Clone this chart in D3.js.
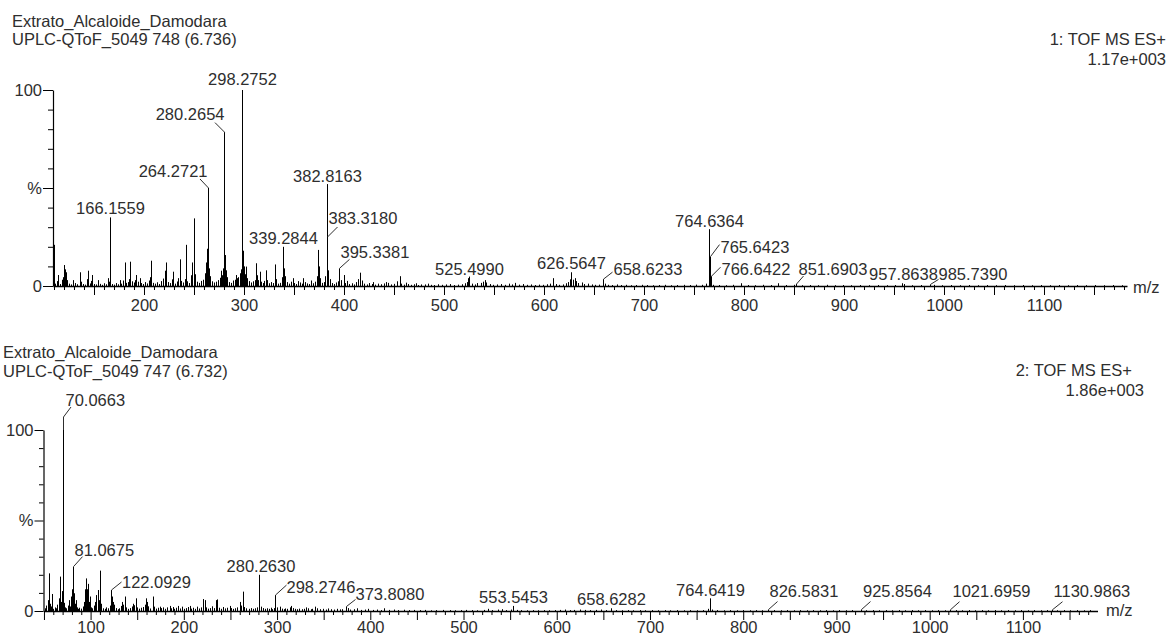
<!DOCTYPE html>
<html>
<head>
<meta charset="utf-8">
<script src="https://cdn.jsdelivr.net/npm/d3@7"></script>
<style>
  html, body { margin: 0; padding: 0; background: #fff; }
  svg { display: block; }
  text { font-family: "Liberation Sans", Arial, Helvetica, sans-serif; font-size: 16.5px; fill: #2e2e2e; }
</style>
</head>
<body>
<svg id="chart" width="1168" height="635"></svg>
<script>
// ---------- Spectrum 1: scan 748 (6.736 min) ----------
const spec1Header = ["Extrato_Alcaloide_Damodara", "UPLC-QToF_5049 748 (6.736)"];
const spec1Function = ["1: TOF MS ES+", "1.17e+003"];
// [m/z, relative intensity %] of annotated peaks
const spec1Labelled = [
  [166.1559, 35], [264.2721, 50], [280.2654, 78.5], [298.2752, 100], [339.2844, 20],
  [382.8163, 52], [383.3180, 25], [395.3381, 9], [525.4990, 4.8], [626.5647, 7],
  [658.6233, 3.5], [764.6364, 29], [765.6423, 15], [766.6422, 5], [851.6903, 1],
  [957.8638, 1.4], [985.7390, 0.8]
];
// other visible peaks
const spec1Peaks = [
  [110.2, 21], [114, 5.6], [120.3, 10.7], [122, 7], [129, 3], [135.7, 7], [144.2, 7.8],
  [148.4, 5.6], [154, 3], [164, 4], [175.7, 3], [180.7, 12], [186.4, 12.4], [192.4, 5.6],
  [195.7, 4], [207.2, 12.9], [220.7, 7.8], [222.4, 12], [229, 7.3], [235.7, 13.6],
  [242.2, 21], [249.7, 34.5], [262.3, 12], [263.3, 19], [277.4, 7.8], [281.3, 15.8],
  [292.4, 5.6], [295.7, 6.5], [299.3, 18], [302, 9.9], [312.3, 11.6], [315.7, 7.3],
  [321.7, 8], [330.7, 11], [340.4, 9], [349, 4], [359, 4], [374.1, 18.4], [375.2, 10],
  [384.3, 8], [399.7, 5.6], [416.4, 6.8], [429, 2], [442, 2], [455.7, 5], [462, 1.7],
  [472, 1.4], [524, 4], [540.7, 3], [609, 4], [625.7, 3.4], [630.7, 4], [797, 1.4], [834, 1.4]
];
// low-level baseline signal
const spec1Minor = [
  [111,1.2],[113,2.5],[116,1.0],[118,3.2],[119,4.5],[121,8.5],[123,3.0],[125,1.2],[127,0.8],[131,1.5],
  [133,0.9],[137,2.2],[139,1.0],[141,0.7],[143,3.5],[146,1.3],[147,2.6],[150,1.0],[152,0.8],[156,1.1],
  [158,0.6],[160,1.4],[162,0.9],[165,2.2],[168,1.0],[170,0.7],[172,1.5],[174,0.9],[177,1.2],[179,2.8],
  [182,1.6],[184,2.0],[185,3.5],[188,2.4],[190,1.8],[191,3.0],[194,2.2],[197,1.5],[199,1.0],[201,2.0],
  [203,1.3],[205,2.8],[206,4.5],[209,1.6],[211,1.2],[213,1.9],[215,1.0],[217,2.5],[219,3.8],[221,4.2],
  [224,2.0],[226,1.5],[228,3.4],[231,1.2],[233,2.3],[234,4.0],[237,2.6],[239,1.8],[241,3.5],[243,2.4],
  [245,1.5],[247,5.5],[248,12],[251,6],[253,2.2],[255,1.6],[257,2.6],[259,3.2],[261,6.5],[265,9],
  [266,5],[268,2.4],[270,1.8],[272,2.2],[274,3.0],[276,4.2],[278,5.5],[279,9],[282,8],[283,4.5],
  [285,2.0],[287,1.6],[289,2.8],[291,3.2],[293,4.0],[294,4.5],[296,5.5],[297,8.5],[300,10],[301,6],
  [303,4],[305,2.5],[307,1.8],[309,2.4],[311,3.0],[313,5.5],[314,3.0],[317,2.2],[319,1.5],[320,2.6],
  [323,3.0],[325,1.4],[327,2.0],[329,1.5],[332,3.5],[334,1.2],[336,1.6],[338,4.5],[341,5],[343,2.0],
  [345,1.2],[347,2.2],[350,1.5],[352,1.0],[354,2.5],[356,1.8],[358,1.2],[361,2.0],[363,1.3],[365,1.0],
  [367,2.8],[369,1.4],[371,2.2],[373,5],[376,4],[378,1.6],[380,2.0],[381,5],[386,3.5],[388,1.5],
  [390,1.0],[392,1.8],[394,2.4],[397,3.0],[401,1.5],[403,2.6],[405,1.0],[408,1.4],[410,0.8],[412,2.0],
  [414,3.5],[418,2.8],[420,1.2],[423,0.8],[425,1.5],[428,1.0],[431,0.7],[434,1.2],[437,0.9],[440,1.3],
  [444,1.6],[447,0.8],[450,1.1],[453,2.4],[457,1.2],[460,0.7],[464,1.0],[467,0.6],[470,0.9],[474,0.5],
  [477,0.8],[481,0.8],[484,1.2],[487,0.6],[490,0.5],[494,0.9],[498,0.6],[502,0.8],[506,1.0],[510,0.5],
  [514,0.7],[518,0.9],[521,1.4],[523,2.0],[528,1.2],[531,0.8],[533,1.5],[537,1.6],[539,2.2],[542,1.8],
  [546,1.0],[549,0.6],[553,0.8],[557,1.0],[561,0.6],[565,1.2],[568,0.8],[571,1.6],[575,0.7],[579,1.0],
  [583,0.6],[587,0.8],[591,0.5],[595,0.7],[599,0.6],[603,0.9],[606,1.2],[612,1.0],[615,0.6],[619,0.8],
  [622,1.4],[624,2.0],[629,3.2],[632,2.5],[634,1.5],[638,1.8],[640,1.0],[644,1.2],[648,0.8],[651,0.6],
  [655,0.7],[661,1.2],[664,0.6],[668,0.5],[673,0.8],[677,0.5],[682,0.6],[687,0.4],[692,0.5],[698,0.6],
  [703,0.5],[709,0.4],[715,0.5],[721,0.6],[727,0.4],[733,0.5],[740,0.6],[746,0.5],[752,0.7],[758,0.6],
  [762,1.2],[769,0.6],[775,0.5],[782,0.4],[789,0.6],[804,0.5],[811,0.4],[819,0.6],[827,0.5],[842,0.5],
  [850,0.6],[858,0.4],[866,0.5],[874,0.4],[883,0.6],[891,0.4],[899,0.5],[907,0.4],[916,0.5],[925,0.4],
  [934,0.5],[943,0.4],[951,0.5],[960,1.0],[968,0.4],[977,0.5],[990,0.6],[998,0.4],[1007,0.5],[1016,0.4],
  [1025,0.5],[1034,0.4],[1043,0.5],[1052,0.4],[1061,0.5],[1070,0.4],[1079,0.5],[1088,0.4],[1097,0.5],
  [1106,0.4],[1115,0.5],[1124,0.4],[1133,0.5],[1142,0.4],[1151,0.5],[1160,0.4],[1169,0.5],[1178,0.4]
];
const spec1XLabels = [200, 300, 400, 500, 600, 700, 800, 900, 1000, 1100];

// ---------- Spectrum 2: scan 747 (6.732 min) ----------
const spec2Header = ["Extrato_Alcaloide_Damodara", "UPLC-QToF_5049 747 (6.732)"];
const spec2Function = ["2: TOF MS ES+", "1.86e+003"];
const spec2Labelled = [
  [70.0663, 100], [81.0675, 24.5], [122.0929, 11.6], [280.2630, 20], [298.2746, 8.8],
  [373.8080, 2.5], [553.5453, 2.8], [658.6282, 1.5], [764.6419, 7], [826.5831, 0.8],
  [925.8564, 0.8], [1021.6959, 0.7], [1130.9863, 0.7]
];
const spec2Peaks = [
  [55.3, 20.8], [58.9, 9.4], [67.5, 19], [69.4, 11], [76.7, 6], [82.1, 9.8], [83.9, 6],
  [95.4, 18], [97.1, 15], [98.9, 8], [106.1, 8.8], [107.8, 11.6], [110, 22.3], [123.9, 5],
  [134, 5], [136.5, 8], [145.4, 4], [148.3, 7], [159.7, 7], [160.8, 5], [166.9, 8], [174, 2.4],
  [184.8, 2.8], [193.7, 2.8], [206.2, 2.8], [220.5, 6.6], [222.3, 6], [234.1, 6], [235.9, 6.4],
  [249.1, 2.8], [259.9, 5], [263.4, 10.7], [283.1, 2.4], [302.8, 2.4], [313.5, 2], [315.3, 2.8],
  [331.4, 2], [340.3, 2.4]
];
const spec2Minor = [
  [51,1.5],[52.5,3],[54,6],[56.5,4],[57.5,2.5],[60,1.2],[61.5,2],[63,1.5],[64.5,3.5],[66,7],
  [68.5,5],[71,4.5],[72.5,2],[74,1.5],[75.5,3],[78,2.5],[79.5,8],[80.5,12],[83,4],[85,2],
  [86.5,1.2],[88,1.8],[90,1.3],[91.5,2.5],[93,5],[94,12],[94.7,16],[96,12],[98,5],[100,2],
  [102,1.5],[103.5,3],[105,5],[109,6],[111.5,4],[113,1.5],[115,1.2],[117,2],[119,1.5],[120.5,3],
  [121.5,6],[123,8],[125,3.5],[127,1.6],[129,1.0],[131,1.5],[133,2.8],[135,3.5],[138,2],[140,1.2],
  [142,1.6],[144,2.5],[147,3.2],[150,2],[152,1.3],[154,1.8],[156,2.2],[158,3.5],[162,2.6],[164,1.4],
  [168,2.4],[170,1.3],[172,1.8],[176,1.6],[178,2],[180,1.2],[182,2],[186,1.5],[188,2.2],[190,1.2],
  [192,1.8],[196,1.4],[198,2.4],[200,1.2],[202,1.6],[204,2.2],[208,1.3],[210,1.8],[212,1.2],[214,2.4],
  [216,1.4],[218,2],[224,2],[226,1.3],[228,1.6],[230,2.6],[232,1.6],[238,1.8],[240,1.2],[242,2.2],
  [244,1.4],[246,1.8],[251,1.6],[253,1.2],[255,1.5],[257,2],[261,3],[265,2.2],[267,1.5],[270,1.2],
  [272,1.6],[274,1.2],[276,1.5],[278,2],[281,3.5],[285,1.6],[287,1.2],[289,1.5],[291,1.2],[293,1.8],
  [295,1.0],[297,1.6],[300,2],[305,1.3],[307,1.0],[309,1.4],[311,1.2],[317,1.6],[319,1.2],[321,1.0],
  [324,1.3],[327,1.0],[329,1.2],[333,1.5],[336,1.0],[338,1.2],[343,1.5],[346,1.0],[349,1.2],[352,0.8],
  [355,1.4],[358,1.0],[361,0.8],[364,1.2],[367,0.9],[370,1.0],[376,1.6],[378,0.8],[382,1.0],[386,1.5],
  [390,0.6],[394,0.8],[398,1.2],[403,0.6],[407,0.8],[411,0.5],[415,1.5],[420,0.6],[425,0.8],[430,0.5],
  [436,0.7],[441,0.5],[447,0.6],[453,0.5],[459,0.6],[465,0.4],[471,0.5],[478,0.6],[485,0.5],[491,0.4],
  [497,0.5],[503,0.6],[509,0.5],[515,0.4],[522,0.6],[526,1.2],[531,0.5],[537,0.8],[541,1.0],[546,0.5],
  [551,0.8],[557,0.6],[562,0.5],[568,0.4],[574,0.5],[580,0.4],[586,0.5],[592,0.4],[598,0.5],[604,0.6],
  [609,0.8],[614,0.5],[619,0.6],[625,0.8],[630,0.6],[636,0.5],[642,0.6],[647,0.8],[653,0.5],[664,0.5],
  [670,0.4],[676,0.5],[682,0.4],[689,0.5],[695,0.4],[702,0.5],[709,0.4],[716,0.5],[722,0.4],[729,0.5],
  [736,0.4],[743,0.5],[750,0.4],[757,0.5],[762,1.2],[767,0.8],[772,0.5],[779,0.4],[786,0.5],[793,0.4],
  [800,0.5],[807,0.4],[814,0.5],[820,0.4],[833,0.5],[840,0.4],[847,0.5],[854,0.4],[861,0.5],[868,0.4],
  [875,0.5],[882,0.4],[889,0.5],[896,0.4],[903,0.5],[910,0.4],[917,0.5],[932,0.4],[939,0.5],[946,0.4],
  [953,0.5],[960,0.4],[967,0.5],[974,0.4],[981,0.5],[988,0.4],[995,0.5],[1002,0.4],[1009,0.5],[1016,0.4],
  [1028,0.5],[1035,0.4],[1042,0.5],[1049,0.4],[1056,0.5],[1063,0.4],[1070,0.5],[1077,0.4],[1084,0.5],
  [1091,0.4],[1098,0.5],[1105,0.4],[1112,0.5],[1119,0.4],[1126,0.5],[1137,0.4],[1144,0.5],[1151,0.4],
  [1158,0.5],[1165,0.4],[1172,0.5]
];
const spec2XLabels = [100, 200, 300, 400, 500, 600, 700, 800, 900, 1000, 1100];

// intensity axis
const yTickValues = [0, 50, 100];
const yTickText = ["0", "%", "100"];
const yMinorValues = [10, 20, 30, 40, 60, 70, 80, 90];

// ---------- layout ----------
const panel1 = {
  left: 53, right: 1127, top: 90, base: 286, domain: [109, 1183],
  headerX: 12, headerY: [27, 45], infoX: [1166, 1166], infoY: [45, 65],
  mzX: 1133, mzY: 293, yMajor: 10, yMinor: 5, xPad: 4
};
const panel2 = {
  left: 43.5, right: 1097.5, top: 430, base: 611, domain: [49.5, 1180],
  headerX: 3, headerY: [358, 377], infoX: [1132, 1144], infoY: [376, 396],
  mzX: 1106, mzY: 616, yMajor: 9, yMinor: 4.5, xPad: 1.5
};

// annotation placement relative to the peak apex: text offset/anchor and leader vertices
const place1 = {
  "166.1559": { a: "middle", tx: 0, ty: -3 },
  "264.2721": { a: "end", tx: -1, ty: -11, l: [[-8.5, -9]] },
  "280.2654": { a: "end", tx: 0, ty: -12, l: [[-9.5, -9.5]] },
  "298.2752": { a: "middle", tx: 0, ty: -5 },
  "339.2844": { a: "middle", tx: 0, ty: -3 },
  "382.8163": { a: "middle", tx: 0, ty: -2 },
  "383.3180": { a: "start", tx: 1, ty: -13, l: [[10, -10]] },
  "395.3381": { a: "start", tx: 1, ty: -10, l: [[10, -9]] },
  "525.4990": { a: "middle", tx: 0, ty: -2 },
  "626.5647": { a: "middle", tx: 0, ty: -3 },
  "658.6233": { a: "start", tx: 10, ty: -4, l: [[9, -7]] },
  "764.6364": { a: "middle", tx: 0, ty: -2 },
  "765.6423": { a: "start", tx: 10, ty: -4, l: [[9, -12]] },
  "766.6422": { a: "start", tx: 10, ty: -1, l: [[9, -9]] },
  "851.6903": { a: "start", tx: 2, ty: -9, l: [[7, -8]] },
  "957.8638": { a: "middle", tx: 1, ty: -3 },
  "985.7390": { a: "start", tx: 8, ty: -4, l: [[8, -5]] }
};
const place2 = {
  "70.0663": { a: "start", tx: 2, ty: -24, l: [[0, -13], [7.5, -23]] },
  "81.0675": { a: "start", tx: 1, ty: -11, l: [[9, -10]] },
  "122.0929": { a: "start", tx: 10.5, ty: -2, l: [[10, -8]] },
  "280.2630": { a: "middle", tx: 1.5, ty: -3 },
  "298.2746": { a: "start", tx: 11, ty: -2, l: [[11, -10]] },
  "373.8080": { a: "start", tx: 9, ty: -6, l: [[9, -7]] },
  "553.5453": { a: "middle", tx: 0, ty: -3 },
  "658.6282": { a: "middle", tx: 0, ty: -3 },
  "764.6419": { a: "middle", tx: 0, ty: -2.5 },
  "826.5831": { a: "start", tx: 1, ty: -12.5, l: [[9, -8]] },
  "925.8564": { a: "start", tx: 1.5, ty: -12.5, l: [[9, -8]] },
  "1021.6959": { a: "start", tx: 2, ty: -12.5, l: [[9, -8]] },
  "1130.9863": { a: "start", tx: 1, ty: -12.5, l: [[10, -8]] }
};

const svg = d3.select("#chart");
const snap = v => Math.round(v) + 0.5;

function drawSpectrum(p, d) {
  const x = d3.scaleLinear().domain(p.domain).range([p.left, p.right]);
  const y = d3.scaleLinear().domain([0, 100]).range([p.base, p.top]);
  const g = svg.append("g");

  // header lines
  g.append("g").selectAll("text").data(d.header).join("text")
    .attr("x", p.headerX).attr("y", (t, i) => p.headerY[i]).text(t => t);
  g.append("g").selectAll("text").data(d.fn).join("text")
    .attr("text-anchor", "end")
    .attr("x", (t, i) => p.infoX[i]).attr("y", (t, i) => p.infoY[i]).text(t => t);

  // centroid sticks
  const sticks = d.minor.concat(d.peaks, d.labelled);
  g.append("g").selectAll("line").data(sticks).join("line")
    .attr("x1", s => snap(x(s[0]))).attr("x2", s => snap(x(s[0])))
    .attr("y1", y(0)).attr("y2", s => y(s[1]))
    .attr("stroke", "#000").attr("stroke-width", 1);

  // m/z axis
  const majors = d3.range(Math.ceil(p.domain[0] / 50) * 50, p.domain[1], 50);
  const minors = d3.range(Math.ceil(p.domain[0] / 10) * 10, p.domain[1], 10).filter(v => v % 50 !== 0);
  const gx = g.append("g").attr("transform", `translate(0,${p.base})`);
  gx.append("g").call(d3.axisBottom(x).tickValues(minors).tickSize(4).tickSizeOuter(0).tickFormat(""))
    .select(".domain").remove();
  gx.append("g").call(d3.axisBottom(x).tickValues(majors).tickSize(9).tickSizeOuter(0).tickPadding(p.xPad)
      .tickFormat(v => d.xLabels.includes(v) ? String(v) : ""));
  gx.selectAll(".domain").attr("stroke", "#000").attr("stroke-width", 1.6);
  gx.selectAll(".tick line").attr("stroke", "#000");
  gx.attr("font-size", null).attr("font-family", null);

  g.append("text").attr("x", p.mzX).attr("y", p.mzY).text("m/z");

  // intensity axis
  const gy = g.append("g").attr("transform", `translate(${p.left},0)`);
  gy.append("g").call(d3.axisLeft(y).tickValues(yMinorValues).tickSize(p.yMinor).tickSizeOuter(0).tickFormat(""))
    .select(".domain").remove();
  gy.append("g").call(d3.axisLeft(y).tickValues(yTickValues).tickSize(p.yMajor).tickSizeOuter(0).tickPadding(1)
      .tickFormat(v => yTickText[yTickValues.indexOf(v)]));
  gy.selectAll(".domain").attr("stroke", "#000").attr("stroke-width", 1.2);
  gy.selectAll(".tick line").attr("stroke", "#000");
  gy.attr("font-size", null).attr("font-family", null);

  // peak annotations
  const ann = g.append("g");
  d.labelled.forEach(([mz, v]) => {
    const key = mz.toFixed(4);
    const pl = d.place[key];
    const px = snap(x(mz)), py = y(v);
    if (pl.l) {
      const pts = [[px, py]].concat(pl.l.map(([dx, dy]) => [px + dx, py + dy]));
      ann.append("path").attr("d", d3.line()(pts))
        .attr("fill", "none").attr("stroke", "#2e2e2e").attr("stroke-width", 1);
    }
    ann.append("text").attr("x", px + pl.tx).attr("y", py + pl.ty)
      .attr("text-anchor", pl.a).text(key);
  });
}

drawSpectrum(panel1, {
  header: spec1Header, fn: spec1Function, labelled: spec1Labelled, peaks: spec1Peaks,
  minor: spec1Minor, xLabels: spec1XLabels, place: place1
});
drawSpectrum(panel2, {
  header: spec2Header, fn: spec2Function, labelled: spec2Labelled, peaks: spec2Peaks,
  minor: spec2Minor, xLabels: spec2XLabels, place: place2
});
</script>
</body>
</html>
